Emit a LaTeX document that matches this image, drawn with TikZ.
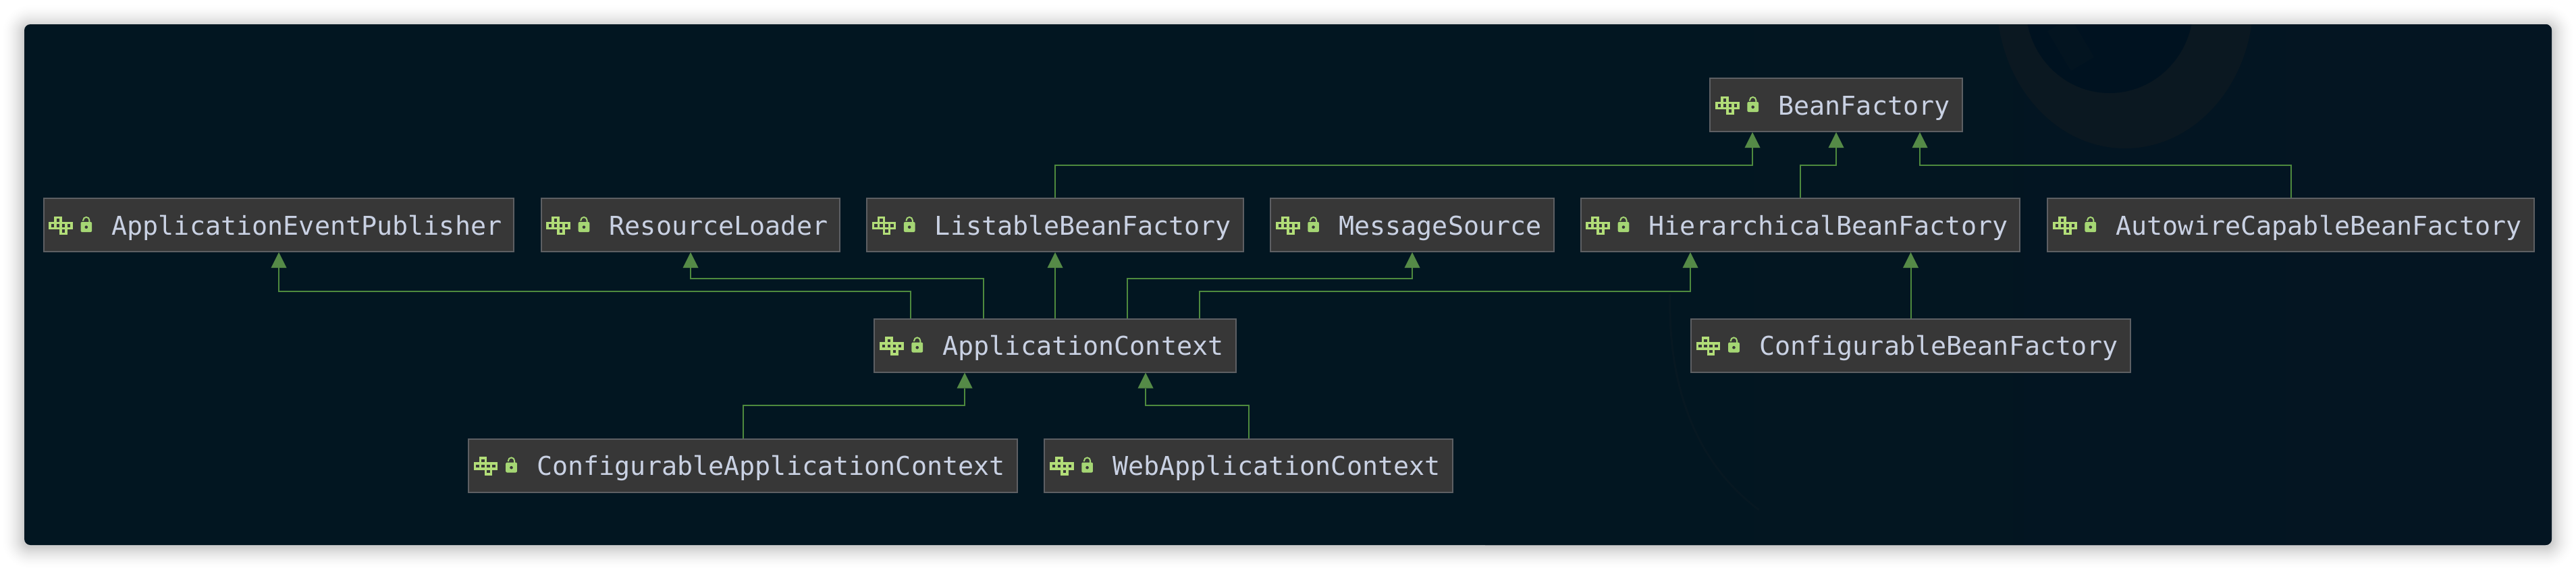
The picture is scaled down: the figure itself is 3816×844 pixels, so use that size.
\documentclass[tikz,border=0pt]{standalone}
\usepackage{fontspec}
\newfontfamily\classfont{DejaVu Sans Mono}
\usetikzlibrary{arrows.meta}
\definecolor{panelblue}{HTML}{021621}
\definecolor{owlfur}{HTML}{041522}
\definecolor{owlring}{HTML}{0B1821}
\definecolor{owlpupil}{HTML}{001220}
\definecolor{owlglint}{HTML}{031420}
\definecolor{owlline}{HTML}{071822}
\definecolor{boxgrey}{HTML}{373737}
\definecolor{boxedge}{HTML}{5D5F63}
\definecolor{labelgrey}{HTML}{C9D1E3}
\definecolor{gridlime}{HTML}{B2DD78}
\definecolor{locklime}{HTML}{A5D674}
\definecolor{linegreen}{HTML}{4E8A3E}
\definecolor{tipgreen}{HTML}{558A47}
\tikzset{
  classbox/.style={shape=rectangle,draw=boxedge,fill=boxgrey,line width=2pt,inner xsep=18pt,inner ysep=0pt,
    minimum height=79pt,text height=29pt,text depth=0pt,text=labelgrey,
    font=\classfont\fontsize{38.4pt}{40pt}\selectfont,execute at begin node={\hspace*{83pt}}},
  inherits/.style={draw=linegreen,line width=2pt,-{Triangle[length=23pt,width=23pt,line width=0pt,color=tipgreen,fill=tipgreen]}},
  classicons/.pic={
    \foreach \c/\r in {1/0,0/1,1/1,2/1,3/1,2/2}
      \draw[draw=gridlime,line width=3.5pt] (10.5+\c*8,-11+\r*8) rectangle ++(8,8);
    \fill[locklime,rounded corners=2pt] (56,-4.5) rectangle (72.7,10.5);
    \draw[locklime,line width=2pt] (68.9,-4) -- (68.9,-7) arc (0:-180:4.6) -- (59.7,-6);
    \fill[boxgrey] (64.3,3.2) circle (2.3);
  }
}
\begin{document}
\begin{tikzpicture}[x=1pt,y=-1pt]
    \useasboundingbox (0,0) rectangle (3816,844);
    \fill[white] (0,0) rectangle (3816,844);
    \foreach \s in {36,34,...,2}{
      \pgfmathsetmacro{\shade}{0.0006*(37-\s)}
      \pgfmathsetmacro{\bend}{9+\s}
      \fill[black,fill opacity=\shade,rounded corners=\bend pt] (36-\s,40-\s) rectangle (3780+\s,810+\s);
    }
    \fill[panelblue,rounded corners=9pt] (36,36) rectangle (3780,808);
    \begin{scope}
      \clip[rounded corners=9pt] (36,36) rectangle (3780,808);
      \shade[left color=panelblue,right color=owlfur] (2200,36) rectangle (3780,808);
      \fill[owlring] (3148,0) ellipse (190 and 220);
      \fill[owlpupil] (3125,10) ellipse (124 and 128);
      \draw[owlglint,line width=40pt] (3050,36) -- (3085,95);
      \draw[owlline,line width=3pt] (2474,436) .. controls (2470,600) and (2530,700) .. (2606,756);
    \end{scope}

    \node[classbox] (bf) at (2720,155.5) {BeanFactory};
    \node[classbox] (aep) at (413,333.5) {ApplicationEventPublisher};
    \node[classbox] (rl) at (1023,333.5) {ResourceLoader};
    \node[classbox] (lbf) at (1563,333.5) {ListableBeanFactory};
    \node[classbox] (ms) at (2092,333.5) {MessageSource};
    \node[classbox] (hbf) at (2667,333.5) {HierarchicalBeanFactory};
    \node[classbox] (acbf) at (3393.5,333.5) {AutowireCapableBeanFactory};
    \node[classbox] (ctx) at (1563,512) {ApplicationContext};
    \node[classbox] (cbf) at (2830.5,512) {ConfigurableBeanFactory};
    \node[classbox] (cac) at (1100.5,690) {ConfigurableApplicationContext};
    \node[classbox] (web) at (1849.5,690) {WebApplicationContext};

    \foreach \n in {bf,aep,rl,lbf,ms,hbf,acbf,ctx,cbf,cac,web}
      \pic at (\n.west) {classicons};

    \path [inherits] (lbf.north) -- ++(0,-48.5) -| ([xshift=-124pt]bf.south);
    \path [inherits] (hbf.north) -- ++(0,-48.5) -| (bf.south);
    \path [inherits] (acbf.north) -- ++(0,-48.5) -| ([xshift=124pt]bf.south);
    \path [inherits] ([xshift=-214pt]ctx.north) -- ++(0,-39.5) -| (aep.south);
    \path [inherits] ([xshift=-106pt]ctx.north) -- ++(0,-58.5) -| (rl.south);
    \path [inherits] (ctx.north) -- (lbf.south);
    \path [inherits] ([xshift=107pt]ctx.north) -- ++(0,-58.5) -| (ms.south);
    \path [inherits] ([xshift=214pt]ctx.north) -- ++(0,-39.5) -| ([xshift=-163pt]hbf.south);
    \path [inherits] (cbf.north) -- (cbf.north |- hbf.south);
    \path [inherits] (cac.north) -- ++(0,-48.5) -| ([xshift=-134pt]ctx.south);
    \path [inherits] (web.north) -- ++(0,-48.5) -| ([xshift=134pt]ctx.south);
\end{tikzpicture}
\end{document}
